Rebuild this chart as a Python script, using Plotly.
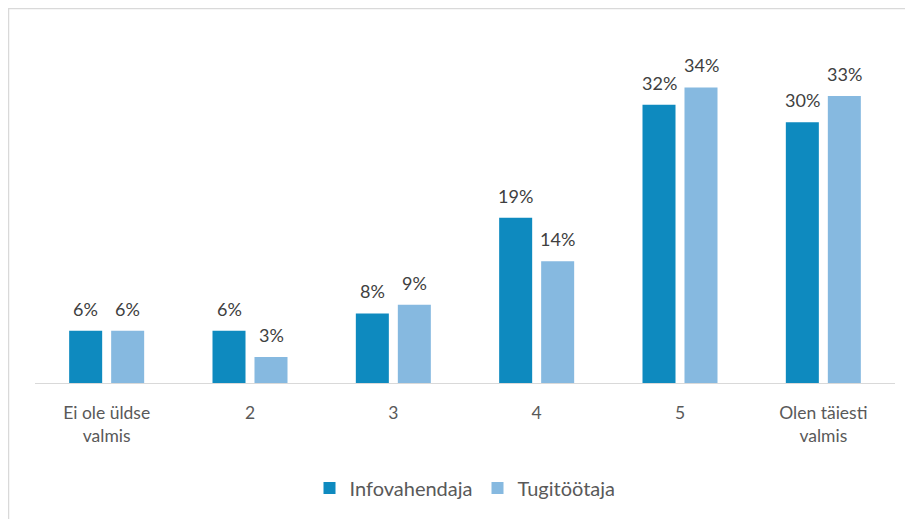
import plotly.graph_objects as go

categories = ["Ei ole üldse<br>valmis", "2", "3", "4", "5", "Olen täiesti<br>valmis"]
infovahendaja = [6, 6, 8, 19, 32, 30]
tugitootaja = [6, 3, 9, 14, 34, 33]
series_names = ["Infovahendaja", "Tugitöötaja"]
colors = ["#0E8ABF", "#86B9E0"]

FONT = "Lato, 'Open Sans', sans-serif"

fig = go.Figure()
for name, vals, col in zip(series_names, [infovahendaja, tugitootaja], colors):
    fig.add_trace(go.Bar(
        x=categories, y=vals, name=name,
        marker=dict(color=col, line=dict(width=0)),
    ))

# value labels above bars (x given as category index so "2".."5" are not read as numbers)
for vals, shift in [(infovahendaja, -21), (tugitootaja, 21)]:
    for i, v in enumerate(vals):
        fig.add_annotation(
            x=i, y=v, text=f"{v}%", showarrow=False,
            xshift=shift, yshift=9, yanchor="bottom",
            font=dict(family=FONT, size=18, color="#404040"),
        )

# the page puts the figure at (8, 8), so everything is placed 8px up/left
W, H = 913, 519
ml, mr, mt, mb = 27, 26, 62, 144
pw, ph = W - ml - mr, H - mt - mb

# light grey chart-area border (top and left edges visible)
fig.add_shape(
    type="rect", xref="paper", yref="paper",
    x0=(0.5 - ml) / pw, x1=(W + 5 - ml) / pw,
    y0=-(H + 5 - (H - mb)) / ph, y1=(H - mb - 0.5) / ph,
    line=dict(color="#D9D9D9", width=1.5), fillcolor="rgba(0,0,0,0)",
)

fig.update_layout(
    width=W, height=H,
    margin=dict(l=ml, r=mr, t=mt, b=mb),
    barmode="group", bargap=0.414, bargroupgap=0.214,
    plot_bgcolor="white", paper_bgcolor="white",
    font=dict(family=FONT, size=17, color="#595959"),
    showlegend=True,
    legend=dict(
        orientation="h", x=0.5, xanchor="center",
        y=-(480 - (H - mb)) / ph, yanchor="middle",
        font=dict(family=FONT, size=20, color="#595959"),
        traceorder="normal",
    ),
)
fig.update_xaxes(
    showline=True, linecolor="#D9D9D9", linewidth=1,
    showgrid=False, ticks="", ticklabelstandoff=14,
    tickfont=dict(family=FONT, size=17.5, color="#595959"),
)
fig.update_yaxes(range=[0, 36], visible=False, showgrid=False)

fig.write_html("out.html")
